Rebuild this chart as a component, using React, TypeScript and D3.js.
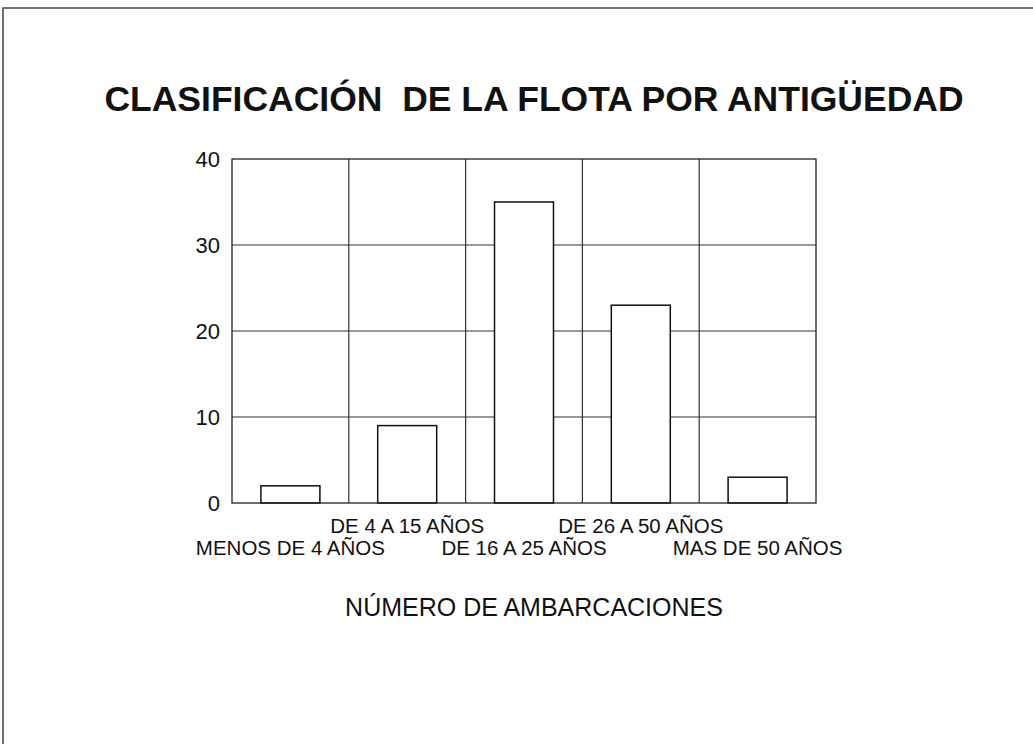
import React, { useEffect, useRef } from 'react';
import * as d3 from 'd3';

// Fleet classification by age
const categories: string[] = [
  'MENOS DE 4 AÑOS',
  'DE 4 A 15 AÑOS',
  'DE 16 A 25 AÑOS',
  'DE 26 A 50 AÑOS',
  'MAS DE 50 AÑOS',
];
const vessels: number[] = [2, 9, 35, 23, 3];
const yTicks: number[] = [0, 10, 20, 30, 40];

const TITLE = 'CLASIFICACIÓN\u00a0 DE LA FLOTA POR ANTIGÜEDAD';
const X_TITLE = 'NÚMERO DE AMBARCACIONES';

export default function App() {
  const svgRef = useRef<SVGSVGElement>(null);

  useEffect(() => {
    const width = 1033;
    const height = 744;
    const plot = { left: 232, right: 816, top: 159, bottom: 503 };
    const font = '"Liberation Sans", Arial, Helvetica, sans-serif';

    const svg = d3.select(svgRef.current).attr('width', width).attr('height', height);
    svg.selectAll('*').remove();

    svg.append('rect').attr('width', width).attr('height', height).attr('fill', '#fff');

    // page frame (top and left edges only, as scanned)
    svg.append('path')
      .attr('d', `M3,${height} L3,8 L${width},8`)
      .attr('fill', 'none').attr('stroke', '#444').attr('stroke-width', 1.5);

    // Title
    svg.append('text')
      .attr('x', 534).attr('y', 111)
      .attr('text-anchor', 'middle')
      .attr('font-family', font).attr('font-weight', 'bold').attr('font-size', 35.5)
      .attr('fill', '#111')
      .text(TITLE);

    const x = d3.scaleBand<string>().domain(categories).range([plot.left, plot.right]).padding(0);
    const y = d3.scaleLinear().domain([0, 40]).range([plot.bottom, plot.top]);

    const g = svg.append('g');

    // Grid
    g.selectAll('.hgrid').data(yTicks.slice(1, -1)).join('line').attr('class', 'hgrid')
      .attr('x1', plot.left).attr('x2', plot.right)
      .attr('y1', d => y(d)).attr('y2', d => y(d))
      .attr('stroke', '#333').attr('stroke-width', 1.2);
    g.selectAll('.vgrid').data(categories.slice(1)).join('line').attr('class', 'vgrid')
      .attr('x1', d => x(d)!).attr('x2', d => x(d)!)
      .attr('y1', plot.top).attr('y2', plot.bottom)
      .attr('stroke', '#333').attr('stroke-width', 1.2);

    // Bars
    const barW = x.bandwidth() * 0.505;
    g.selectAll('.bar').data(vessels).join('rect').attr('class', 'bar')
      .attr('x', (d, i) => x(categories[i])! + (x.bandwidth() - barW) / 2)
      .attr('y', d => y(d))
      .attr('width', barW)
      .attr('height', d => y(0) - y(d))
      .attr('fill', '#fff').attr('stroke', '#111').attr('stroke-width', 1.5);

    // Plot border
    g.append('rect')
      .attr('x', plot.left).attr('y', plot.top)
      .attr('width', plot.right - plot.left).attr('height', plot.bottom - plot.top)
      .attr('fill', 'none').attr('stroke', '#222').attr('stroke-width', 1.3);

    // Y tick labels
    g.selectAll('.ytick').data(yTicks).join('text').attr('class', 'ytick')
      .attr('x', plot.left - 12).attr('y', d => y(d)).attr('dy', '0.36em')
      .attr('text-anchor', 'end')
      .attr('font-family', font).attr('font-size', 22).attr('fill', '#111')
      .text(d => d);

    // X labels, staggered on two rows
    g.selectAll('.xlab').data(categories).join('text').attr('class', 'xlab')
      .attr('x', d => x(d)! + x.bandwidth() / 2)
      .attr('y', (d, i) => (i % 2 === 0 ? 555 : 533))
      .attr('text-anchor', 'middle')
      .attr('font-family', font).attr('font-size', 20.5).attr('fill', '#111')
      .text(d => d);

    // X axis title
    svg.append('text')
      .attr('x', 534).attr('y', 616)
      .attr('text-anchor', 'middle')
      .attr('font-family', font).attr('font-size', 25).attr('fill', '#111')
      .text(X_TITLE);
  }, []);

  return (
    <div style={{ position: 'absolute', left: 0, top: 0 }}>
      <svg ref={svgRef} style={{ display: 'block' }} />
    </div>
  );
}
